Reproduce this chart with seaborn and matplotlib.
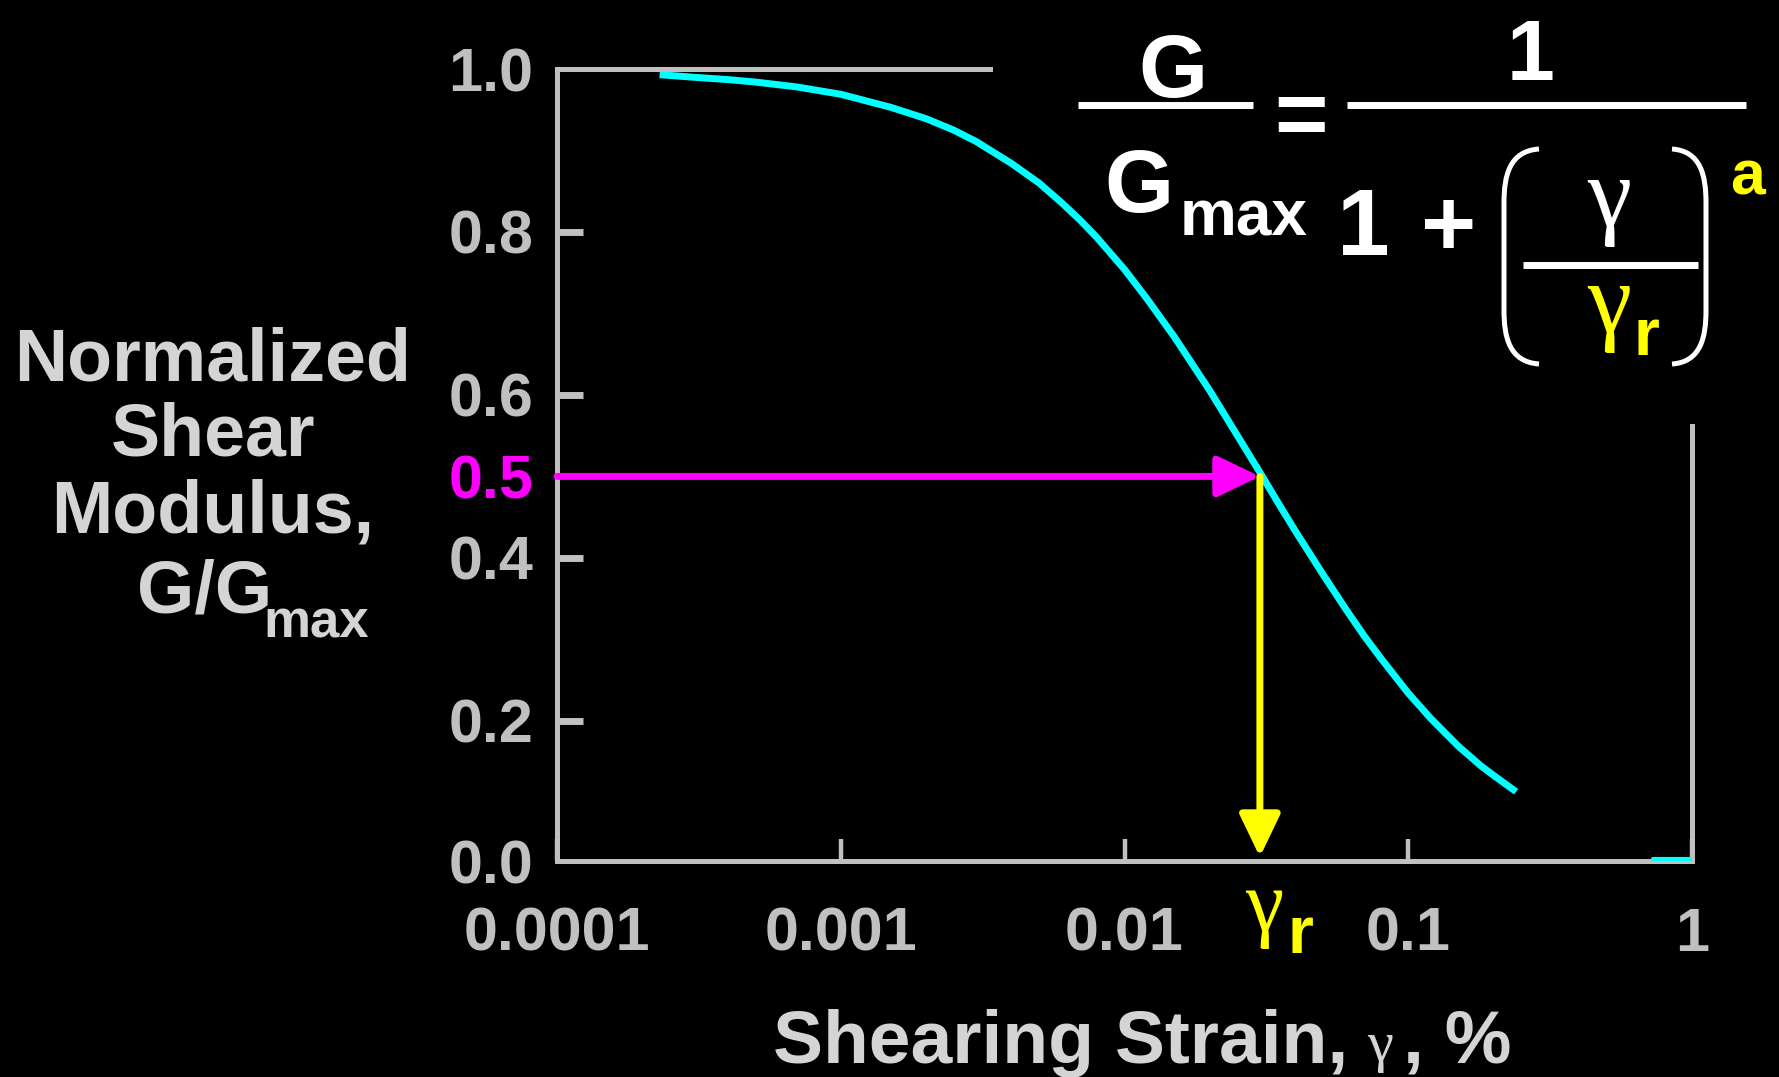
import matplotlib
matplotlib.use("Agg")
import matplotlib.pyplot as plt
import seaborn as sns
from matplotlib.lines import Line2D
from matplotlib.path import Path
from matplotlib.patches import PathPatch
from matplotlib.ticker import NullLocator

# Modulus reduction curve: shearing strain (%) vs. G/Gmax
strain_pct = [0.00023, 0.0003, 0.0004, 0.0005, 0.0007, 0.001, 0.0015, 0.002,
              0.0025, 0.003, 0.004, 0.005, 0.006, 0.007, 0.008, 0.01, 0.012,
              0.015, 0.02, 0.025, 0.03, 0.035, 0.04, 0.05, 0.06, 0.07, 0.08,
              0.1, 0.12, 0.15, 0.18, 0.2, 0.24]
g_ratio = [0.993, 0.990, 0.987, 0.984, 0.978, 0.969, 0.953, 0.939,
           0.925, 0.911, 0.884, 0.860, 0.836, 0.814, 0.793, 0.754, 0.718,
           0.671, 0.605, 0.550, 0.505, 0.466, 0.433, 0.380, 0.338, 0.304, 0.277,
           0.234, 0.203, 0.169, 0.145, 0.133, 0.113]

# short stray stroke resting on the baseline at the far right
tail_strain = [0.73, 1.0]
tail_ratio = [0.03, 0.03]

# reference strain where G/Gmax = 0.5
ref_strain = 0.03
ref_ratio = 0.5

x_ticks = [0.0001, 0.001, 0.01, 0.1, 1]
x_tick_labels = ["0.0001", "0.001", "0.01", "0.1", "1"]
y_floor = 0.028
y_ticks = [y_floor, 0.2, 0.4, 0.5, 0.6, 0.8, 1.0]
y_tick_labels = ["0.0", "0.2", "0.4", "0.5", "0.6", "0.8", "1.0"]

W, H, DPI = 1779, 1077, 100
GREY = "#c0c0c0"
LABEL = "#d4d4d4"
CYAN, MAGENTA, YELLOW = "#00ffff", "#ff00ff", "#ffff00"

sns.set_theme(style="dark")
plt.rcParams["font.family"] = ["Liberation Sans", "DejaVu Sans"]
plt.rcParams["font.weight"] = "bold"
SERIF = ["Liberation Serif", "DejaVu Serif"]

fig = plt.figure(figsize=(W / DPI, H / DPI), dpi=DPI, facecolor="black")
ax = fig.add_axes([557 / W, 1 - 861 / H, (1692 - 557) / W, (861 - 69) / H])
ax.set_facecolor("black")
ax.grid(False)
ax.set_xscale("log")

sns.lineplot(x=strain_pct, y=g_ratio, color=CYAN, linewidth=5, ax=ax, zorder=3,
             solid_joinstyle="round", solid_capstyle="butt")
sns.lineplot(x=tail_strain, y=tail_ratio, color=CYAN, linewidth=3, ax=ax, zorder=3)

ax.set_xlim(1e-4, 1)
ax.set_ylim(y_floor, 1.0)
ax.set_xlabel("")
ax.set_ylabel("")

for side in ["left", "right", "top", "bottom"]:
    ax.spines[side].set_visible(True)
    ax.spines[side].set_color(GREY)
    ax.spines[side].set_linewidth(3.6)
    ax.spines[side].set_zorder(2.5)
ax.spines["top"].set_bounds(1e-4, 0.00337)
ax.spines["right"].set_bounds(y_floor, 0.562)

ax.set_xticks(x_ticks)
ax.set_xticklabels(x_tick_labels)
ax.xaxis.set_minor_locator(NullLocator())
ax.set_yticks(y_ticks)
ax.set_yticklabels(y_tick_labels)
ax.yaxis.set_minor_locator(NullLocator())

ax.tick_params(axis="x", which="major", direction="in", length=16, width=3.2,
               color=GREY, pad=33, labelsize=44, labelcolor=GREY,
               bottom=True, top=False)
ax.tick_params(axis="y", which="major", direction="in", length=19, width=5,
               color=GREY, pad=17, labelsize=44, labelcolor=GREY,
               left=True, right=False)
for tk, val in zip(ax.yaxis.get_major_ticks(), y_ticks):
    if val in (y_floor, 1.0):
        tk.tick1line.set_visible(False)
    if val == ref_ratio:
        tk.tick1line.set_visible(False)
        tk.label1.set_color(MAGENTA)

# guide arrows to the reference strain
head = "-|>,head_length=2.6,head_width=1.25"
ax.annotate("", xy=(ref_strain, ref_ratio), xytext=(1e-4, ref_ratio),
            arrowprops=dict(arrowstyle=head, lw=5, color=MAGENTA,
                            shrinkA=0, shrinkB=0, mutation_scale=10),
            annotation_clip=False, zorder=4)
ax.annotate("", xy=(ref_strain, y_floor + 0.005), xytext=(ref_strain, ref_ratio),
            arrowprops=dict(arrowstyle=head, lw=5, color=YELLOW,
                            shrinkA=0, shrinkB=0, mutation_scale=10),
            annotation_clip=False, zorder=4)


def ftxt(x, y, s, **kw):
    kw.setdefault("va", "baseline")
    kw.setdefault("ha", "left")
    return fig.text(x / W, 1 - y / H, s, **kw)


def hbar(x1, x2, y, color="white", lw=5):
    fig.add_artist(Line2D([x1 / W, x2 / W], [1 - y / H] * 2, lw=lw,
                          color=color, transform=fig.transFigure,
                          solid_capstyle="butt"))


def paren(x_out, x_in, y_top, y_bot, color="white", lw=3.6):
    # tall bracket: curved ends, straight middle
    r = 0.25 * (y_bot - y_top)
    verts = [(x_out, y_top), (x_in + 0.15 * (x_out - x_in), y_top + 2),
             (x_in, y_top + r * 0.5), (x_in, y_top + r),
             (x_in, y_bot - r),
             (x_in, y_bot - r * 0.5), (x_in + 0.15 * (x_out - x_in), y_bot - 2),
             (x_out, y_bot)]
    verts = [(vx / W, 1 - vy / H) for vx, vy in verts]
    codes = [Path.MOVETO, Path.CURVE4, Path.CURVE4, Path.CURVE4,
             Path.LINETO, Path.CURVE4, Path.CURVE4, Path.CURVE4]
    fig.add_artist(PathPatch(Path(verts, codes), fill=False, lw=lw,
                             edgecolor=color, transform=fig.transFigure))


# y-axis title
ftxt(213, 380, "Normalized", ha="center", size=53, color=LABEL)
ftxt(213, 456, "Shear", ha="center", size=53, color=LABEL)
ftxt(213, 532, "Modulus,", ha="center", size=53, color=LABEL)
ftxt(137, 612, "G/G", size=53, color=LABEL)
ftxt(263, 637, "max", size=38, color=LABEL)

# x-axis title
ftxt(773, 1063, "Shearing Strain,", size=54, color=LABEL)
ftxt(1367, 1061, "\u03b3", size=42, family=SERIF, weight="normal", color=LABEL)
ftxt(1403, 1063, ", %", size=54, color=LABEL)

# reference strain label on the axis
ftxt(1245, 930, "\u03b3", size=62, family=SERIF, weight="normal", color=YELLOW)
ftxt(1287, 953, "r", size=48, color=YELLOW)

# G/Gmax = 1 / (1 + (gamma/gamma_r)^a)
ftxt(1173, 97, "G", ha="center", size=64, color="white")
hbar(1078, 1253, 104.5)
ftxt(1139, 212, "G", ha="center", size=64, color="white")
ftxt(1180, 235, "max", size=46, color="white")
ftxt(1301, 145, "=", ha="center", size=66, color="white")
ftxt(1531, 80, "1", ha="center", size=62, color="white")
hbar(1347, 1746, 104.5)
ftxt(1363, 255, "1", ha="center", size=68, color="white")
ftxt(1449, 255, "+", ha="center", size=68, color="white")
paren(1539, 1504, 149, 364)
paren(1672, 1706, 149, 364)
ftxt(1609, 226, "\u03b3", ha="center", size=72, family=SERIF, weight="normal", color="white")
hbar(1523, 1698, 265)
ftxt(1587, 332, "\u03b3", size=72, family=SERIF, weight="normal", color=YELLOW)
ftxt(1633, 355, "r", size=48, color=YELLOW)
ftxt(1730, 195, "a", size=45, color=YELLOW)

fig.savefig("out.png", dpi=DPI, facecolor="black")
